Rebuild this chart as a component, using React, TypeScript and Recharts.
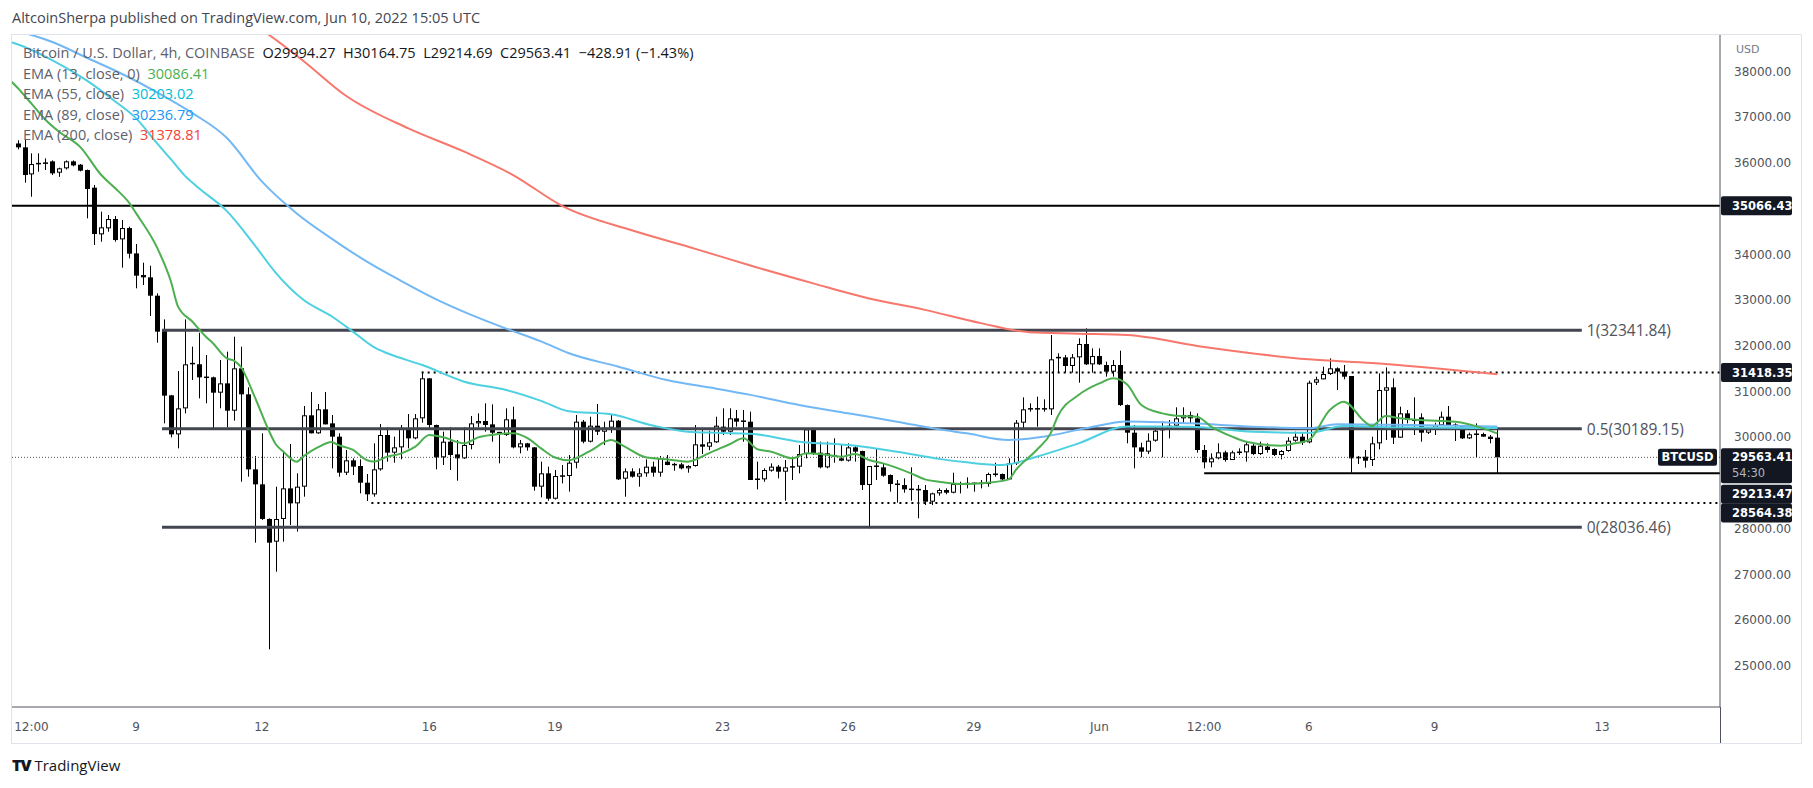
import React from 'react';
import { ComposedChart, Bar, Line, XAxis, YAxis, ReferenceLine } from 'recharts';

// ---- Candles (4h, BTC/USD Coinbase), index 0 = May 6 04:00 UTC ----
const opens = [
  36430, 36345, 35754, 35975, 35990, 36039, 35791, 35886, 36039, 35966,
  35849, 35463, 34442, 34573, 34777, 34332, 34580, 34025, 33552, 33501,
  33100, 32349, 30920, 30066, 30635, 31620, 31600, 31313, 31314, 30978,
  31182, 30584, 31511, 30942, 29301, 28973, 28215, 27719, 28215, 28885,
  28557, 28922, 30483, 30089, 30614, 30307, 30016, 29228, 29498, 29374,
  29009, 28754, 29301, 30052, 29666, 29782, 30198, 29979, 30417, 31292,
  30271, 29564, 29906, 29629, 29542, 29834, 30307, 30358, 30285, 30103,
  30052, 30395, 29782, 29870, 29782, 28922, 29214, 28659, 29150, 29155,
  29447, 30344, 29906, 30256, 30125, 30213, 30366, 29097, 29257, 29141,
  29214, 29360, 29228, 29469, 29410, 29410, 29323, 29374, 29848, 29797,
  29892, 30235, 30125, 30417, 30360, 30344, 29090, 29082, 29272, 29360,
  29250, 29345, 29360, 29636, 30176, 29665, 29345, 29600, 29542, 29491,
  29782, 29702, 28958, 29374, 29345, 29177, 28980, 28958, 28870, 28863,
  28849, 28594, 28776, 28849, 28790, 28980, 28985, 28995, 29000, 28980,
  29199, 29199, 29082, 29432, 30322, 30600, 30630, 30630, 30614, 31708,
  31751, 31562, 31751, 32043, 31598, 31780, 31584, 31438, 31584, 30708,
  30103, 29782, 29688, 29928, 30150, 30176, 30256, 30417, 30490, 30417,
  29724, 29454, 29542, 29673, 29505, 29673, 29673, 29819, 29636, 29797,
  29746, 29615, 29702, 29928, 30016, 29892, 31197, 31270, 31386, 31511,
  31438, 31343, 29564, 29578, 29505, 29870, 31022, 31095, 29994, 30526,
  30380, 30438, 30103, 30176, 30264, 30453, 30271, 30250, 29979, 30067,
  30074, 30016, 29994.27,
];
const highs = [
  36500, 36506, 36214, 36214, 36104, 36060, 35900, 36060, 36060, 35980,
  35860, 35521, 34938, 34865, 34843, 34755, 34609, 34230, 33822, 33756,
  33151, 32582, 30930, 31452, 32582, 31985, 32290, 31802, 31330, 31693,
  31875, 32203, 31985, 31095, 29593, 30089, 28230, 28922, 29688, 29855,
  29214, 30687, 30993, 30730, 30993, 30490, 30089, 29724, 29542, 29520,
  29199, 29870, 30293, 30220, 30016, 30271, 30511, 30511, 31438, 31300,
  30280, 30125, 30220, 29943, 30220, 30468, 30526, 30745, 30723, 30120,
  30636, 30672, 29943, 29880, 29790, 29469, 29360, 29286, 29396, 29615,
  30490, 30380, 30453, 30730, 30344, 30490, 30380, 29323, 29323, 29323,
  29520, 29470, 29593, 29615, 29445, 29445, 29390, 30271, 30176, 30147,
  30453, 30636, 30636, 30599, 30599, 30563, 29469, 29323, 29432, 29396,
  29505, 29578, 29834, 30176, 30190, 29906, 29906, 29980, 29855, 29870,
  29834, 29710, 29374, 29760, 29432, 29190, 29068, 29104, 29345, 28958,
  28958, 28790, 28885, 28885, 29228, 29031, 29126, 29010, 29068, 29228,
  29447, 29210, 29542, 30380, 30876, 30745, 30891, 30833, 32240, 31839,
  31802, 31824, 32167, 32386, 31948, 31948, 31657, 31693, 31897, 30720,
  30271, 29885, 30089, 30235, 30344, 30380, 30658, 30658, 30563, 30526,
  29834, 29651, 29870, 29710, 29710, 29760, 29906, 29870, 29906, 29870,
  29760, 29724, 30001, 30125, 30089, 31240, 31328, 31547, 31729, 31532,
  31584, 31343, 29593, 29724, 30016, 31401, 31532, 31292, 30672, 30599,
  30876, 30526, 30220, 30322, 30563, 30687, 30307, 30271, 30103, 30307,
  30103, 30052, 30164.75,
];
const lows = [
  36300, 35572, 35266, 35813, 35850, 35740, 35700, 35860, 35930, 35820,
  34792, 34209, 34281, 34500, 34281, 33713, 33917, 33261, 33334, 32655,
  32072, 30307, 30001, 29760, 30526, 31255, 30854, 30745, 30176, 30636,
  30220, 30366, 29031, 29141, 27697, 28195, 25364, 27062, 27719, 28083,
  27938, 28703, 30089, 30080, 30285, 29323, 29141, 29177, 29177, 28776,
  28609, 28703, 29272, 29469, 29447, 29520, 29760, 29960, 30322, 30162,
  29301, 29396, 29286, 29053, 29530, 29739, 30220, 30125, 29906, 29432,
  30030, 29760, 29651, 29710, 28834, 28688, 28615, 28640, 28994, 28813,
  29323, 29870, 29890, 30052, 29834, 30100, 29068, 28703, 29120, 28922,
  29140, 29140, 29140, 29390, 29270, 29300, 29228, 29360, 29636, 29720,
  29880, 30052, 30052, 30235, 29906, 29068, 28863, 29030, 29250, 29104,
  28615, 29068, 29214, 29540, 29615, 29323, 29323, 29447, 29480, 29470,
  29470, 28849, 28010, 29068, 29140, 28812, 28572, 28790, 28615, 28230,
  28520, 28520, 28725, 28755, 28776, 28776, 28885, 28812, 28885, 28922,
  29140, 29068, 29068, 29396, 30198, 30563, 30235, 30563, 30490, 31416,
  31416, 31416, 31197, 31584, 31416, 31584, 31329, 31329, 30687, 29870,
  29323, 29564, 29636, 29906, 29564, 29979, 30220, 30307, 30307, 29666,
  29323, 29345, 29520, 29469, 29505, 29615, 29469, 29615, 29615, 29666,
  29593, 29520, 29687, 29906, 29834, 29870, 31146, 31270, 31365, 31036,
  31270, 29228, 29418, 29337, 29374, 29738, 29943, 29855, 29994, 30307,
  30052, 29906, 30074, 30052, 30250, 30250, 29921, 29965, 29965, 29564,
  30016, 29870, 29214.69,
];
const closes = [
  36345, 35740, 35980, 35995, 36005, 35776, 35886, 36039, 35951, 35835,
  35434, 34449, 34595, 34777, 34318, 34580, 34019, 33538, 33501, 33100,
  32313, 30913, 30066, 30635, 31598, 31583, 31313, 31320, 30978, 31182,
  30584, 31511, 30942, 29301, 28973, 28215, 27697, 28215, 28885, 28557,
  28922, 30483, 30089, 30614, 30285, 30016, 29228, 29498, 29360, 29009,
  28754, 29301, 30052, 29666, 29782, 30198, 29979, 30417, 31292, 30271,
  29564, 29906, 29615, 29542, 29834, 30307, 30358, 30271, 30103, 30110,
  30395, 29782, 29870, 29782, 28922, 29214, 28659, 29155, 29160, 29447,
  30344, 29906, 30256, 30125, 30213, 30366, 29082, 29257, 29141, 29214,
  29360, 29228, 29542, 29396, 29400, 29323, 29374, 29848, 29797, 29892,
  30256, 30125, 30417, 30344, 30344, 29068, 29075, 29286, 29360, 29250,
  29345, 29360, 29636, 30176, 29651, 29345, 29651, 29580, 29491, 29782,
  29688, 28958, 29374, 29360, 29162, 28980, 28958, 28863, 28863, 28849,
  28594, 28776, 28849, 28790, 28980, 28985, 28995, 29000, 28990, 29199,
  29199, 29082, 29432, 30322, 30614, 30630, 30630, 30614, 31708, 31751,
  31562, 31751, 32043, 31598, 31780, 31598, 31438, 31584, 30708, 30103,
  29782, 29688, 29928, 30147, 30176, 30256, 30417, 30490, 30417, 29724,
  29454, 29542, 29673, 29505, 29673, 29680, 29848, 29636, 29819, 29724,
  29615, 29702, 29928, 30016, 29885, 31197, 31270, 31386, 31511, 31438,
  31328, 29542, 29550, 29490, 29870, 31036, 31095, 29994, 30526, 30380,
  30380, 30103, 30176, 30264, 30453, 30271, 30271, 29979, 30067, 30074,
  30016, 29965, 29563.41,
];

// ---- EMA readings (candle index -> value) ----
const ema13Idx = [-1,0,2,4,6,9,12,14,16,17,20,22,23,25,27,28,30,31,32,34,36,37,38,40,41,43,45,46,48,50,51,53,55,57,59,61,64,66,69,71,73,75,77,79,82,85,87,90,93,96,99,102,104,106,108,111,113,115,118,120,122,124,128,130,132,135,139,142,143,146,148,149,152,155,157,159,161,164,166,169,171,174,176,181,183,185,188,190,193,194,196,198,201,206,210,212];
const ema13Val = [37800,37650,37300,36950,36680,36350,35740,35450,35130,34900,34150,33400,32860,32540,32203,32060,31729,31680,31540,30880,30150,29850,29700,29469,29590,29780,29900,29830,29730,29505,29470,29580,29651,29797,30050,30001,29870,30000,30074,30090,29990,29760,29560,29500,29700,29943,29797,29564,29520,29469,29650,29850,29979,29740,29688,29542,29651,29637,29578,29637,29505,29432,29214,29082,29031,28980,29009,29082,29286,29724,30089,30453,30927,31182,31292,31150,30709,30526,30475,30453,30235,30016,29906,29819,29870,29943,30599,30781,30344,30249,30468,30417,30380,30344,30198,30086];
const ema55Idx = [-1,0,5,10,14,17,20,22,24,26,30,34,37,41,45,48,51,53,58,64,70,75,79,85,91,96,100,105,112,119,126,132,136,141,146,152,159,168,177,185,190,198,212];
const ema55Val = [38650,38600,38250,37800,37350,36980,36430,36080,35720,35450,34950,34200,33600,33005,32650,32320,31980,31840,31583,31219,31037,30800,30570,30504,30260,30125,30100,30080,29906,29833,29688,29530,29454,29396,29578,29870,30240,30235,30125,30100,30249,30220,30203];
const ema89Idx = [-1,0,5,10,15,20,25,30,35,40,45,50,55,60,65,70,75,79,86,93,100,105,112,119,126,132,136,142,147,153,159,168,177,185,189,200,212];
const ema89Val = [38950,38900,38650,38300,37950,37550,37100,36550,35600,34900,34350,33850,33420,33020,32680,32380,32100,31840,31550,31255,31070,30930,30709,30526,30344,30176,30089,29943,30016,30198,30350,30307,30235,30200,30290,30271,30237];
const ema200Idx = [-1,20,30,36,41,47,56,64,71,78,88,97,105,114,122,130,138,145,152,159,170,185,194,212];
const ema200Val = [41500,40300,39400,38809,38230,37480,36760,36250,35740,35066,34530,34130,33760,33370,33040,32790,32500,32300,32270,32240,31980,31708,31627,31379];

// ---- Axis ticks ----
const timeTickIdx = [2, 17, 35, 59, 77, 101, 119, 137, 155, 170, 185, 203, 227];
const timeTickLabels = ['12:00', '9', '12', '16', '19', '23', '26', '29', 'Jun', '12:00', '6', '9', '13'];
const priceTicks = [25000, 26000, 27000, 28000, 30000, 31000, 32000, 33000, 34000, 36000, 37000, 38000];

// ---- Drawn levels ----
const resistanceLevel = 35066.43;
const fibLevels = [32341.84, 30189.15, 28036.46];
const fibLabels = ['1(32341.84)', '0.5(30189.15)', '0(28036.46)'];
const fibStartIdx = 20.7;
const fibEndIdx = 224.1;
const dottedHigh = 31418.35;
const dottedHighStart = 57.9;
const dottedLow = 28564.38;
const dottedLowStart = 50.7;
const supportLevel = 29213.47;
const supportStart = 170;
const lastPrice = 29563.41;

const X_DOMAIN: [number, number] = [-0.79, 243.9];
const Y_DOMAIN: [number, number] = [24102, 38803];

const rows: any[] = [];
for (let i = -1; i < opens.length; i++) {
  const r: any = { i };
  if (i >= 0) {
    r.o = opens[i]; r.hi = highs[i]; r.lo = lows[i]; r.c = closes[i];
    r.range = [lows[i], highs[i]];
  }
  rows.push(r);
}
const put = (idx: number[], val: number[], key: string) => {
  idx.forEach((ix, k) => { rows[ix + 1][key] = val[k]; });
};
put(ema13Idx, ema13Val, 'ema13');
put(ema55Idx, ema55Val, 'ema55');
put(ema89Idx, ema89Val, 'ema89');
put(ema200Idx, ema200Val, 'ema200');

const AXIS_FONT = '"DejaVu Sans", sans-serif';
const UI_FONT = '"Open Sans", sans-serif';

const Candle = (props: any) => {
  const { x, y, width, height, payload } = props;
  if (!payload || payload.o == null || x == null || y == null) return null;
  const top = Math.min(y, y + height);
  const h = Math.abs(height);
  const { o, c, hi, lo } = payload;
  const span = hi - lo;
  const k = span > 0 ? h / span : 0;
  const cx = Math.round(x + width / 2);
  const bTop = top + (hi - Math.max(o, c)) * k;
  const bBot = top + (hi - Math.min(o, c)) * k;
  const up = c >= o;
  const bh = bBot - bTop;
  let body;
  if (bh < 2) {
    body = <rect x={cx - 2} y={bTop - 0.5} width={5} height={1.5} fill="#000" />;
  } else if (up) {
    body = <rect x={cx - 1.5} y={bTop + 0.5} width={4} height={bh - 1} fill="#fff" stroke="#000" strokeWidth={1} />;
  } else {
    body = <rect x={cx - 2} y={bTop} width={5} height={bh} fill="#000" />;
  }
  return (
    <g>
      <line x1={cx + 0.5} x2={cx + 0.5} y1={top} y2={top + h} stroke="#000" strokeWidth={1} />
      {body}
    </g>
  );
};

const PriceTag = (props: any) => {
  const vb = props.viewBox;
  if (!vb) return null;
  const right = vb.x + vb.width;
  const y = vb.y + props.dy;
  return (
    <g>
      <rect x={right + 1} y={y - 9.5} width={71} height={props.h || 19} rx={2} fill="#131722" />
      <text x={right + 12} y={y} dominantBaseline="central" fill="#fff" fontWeight="bold" fontSize={11.5} fontFamily={AXIS_FONT}>{props.text}</text>
    </g>
  );
};

const LastPriceTag = (props: any) => {
  const vb = props.viewBox;
  if (!vb) return null;
  const right = vb.x + vb.width;
  const y = vb.y;
  return (
    <g>
      <rect x={right - 62} y={y - 8.5} width={59} height={17} rx={2} fill="#131722" />
      <text x={right - 32.5} y={y} textAnchor="middle" dominantBaseline="central" fill="#fff" fontWeight="bold" fontSize={11.5} fontFamily={AXIS_FONT}>BTCUSD</text>
      <rect x={right + 1} y={y - 9} width={71} height={35} rx={2} fill="#131722" />
      <text x={right + 12} y={y} dominantBaseline="central" fill="#fff" fontWeight="bold" fontSize={11.5} fontFamily={AXIS_FONT}>{props.text}</text>
      <text x={right + 12} y={y + 16} dominantBaseline="central" fill="#b2b5be" fontSize={11.5} fontFamily={AXIS_FONT}>54:30</text>
    </g>
  );
};

const FibLabel = (props: any) => {
  const vb = props.viewBox;
  if (!vb) return null;
  return (
    <text x={vb.x + vb.width + 5} y={vb.y} dominantBaseline="central" fill="#50535e" fontSize={15.5} fontFamily={UI_FONT}>{props.text}</text>
  );
};

const PriceTick = (props: any) => {
  const { x, y, payload } = props;
  return (
    <text x={x + 14} y={y} dominantBaseline="central" fill="#50535e" fontSize={12} fontFamily={AXIS_FONT}>
      {Number(payload.value).toFixed(2)}
    </text>
  );
};

const TimeTick = (props: any) => {
  const { x, y, payload } = props;
  const k = timeTickIdx.indexOf(payload.value);
  return (
    <text x={x} y={y + 20} textAnchor="middle" dominantBaseline="central" fill="#50535e" fontSize={12} fontFamily={AXIS_FONT}>
      {k >= 0 ? timeTickLabels[k] : ''}
    </text>
  );
};

const legendRow = (top: number, name: string, value: string, color: string) => (
  <div style={{ position: 'absolute', left: 23, top, fontFamily: UI_FONT, fontSize: 14.5, lineHeight: '18px', color: '#5d606b', whiteSpace: 'pre' }}>
    {name}  <span style={{ color }}>{value}</span>
  </div>
);

export default function App() {
  return (
    <div style={{ position: 'absolute', left: 0, top: 0, width: 1813, height: 788, background: '#fff', overflow: 'hidden' }}>
      <div style={{ position: 'absolute', left: 12, top: 8, fontFamily: UI_FONT, fontSize: 14.5, lineHeight: '20px', color: '#434651', whiteSpace: 'pre' }}>
        AltcoinSherpa published on TradingView.com, Jun 10, 2022 15:05 UTC
      </div>
      <div style={{ position: 'absolute', left: 11, top: 34, width: 1791, height: 710, border: '1px solid #e0e3eb', boxSizing: 'border-box' }} />
      <div style={{ position: 'absolute', left: 12, top: 35 }}>
        <ComposedChart width={1788} height={708} data={rows} margin={{ top: 0, right: 0, bottom: 0, left: 0 }}>
          <XAxis
            dataKey="i"
            type="number"
            domain={X_DOMAIN}
            allowDataOverflow
            ticks={timeTickIdx}
            interval={0}
            tick={<TimeTick />}
            tickLine={false}
            tickSize={0}
            tickMargin={0}
            height={36}
            axisLine={{ stroke: '#50535e' }}
          />
          <YAxis
            orientation="right"
            type="number"
            domain={Y_DOMAIN}
            allowDataOverflow
            ticks={priceTicks}
            interval={0}
            tick={<PriceTick />}
            tickLine={false}
            tickSize={0}
            tickMargin={0}
            width={80}
            axisLine={{ stroke: '#50535e' }}
          />
          <ReferenceLine y={resistanceLevel} stroke="#000" strokeWidth={2} label={<PriceTag text="35066.43" dy={0} />} />
          {fibLevels.map((lv, k) => (
            <ReferenceLine
              key={'fib' + k}
              segment={[{ x: fibStartIdx, y: lv }, { x: fibEndIdx, y: lv }]}
              stroke="#434651"
              strokeWidth={3}
              label={<FibLabel text={fibLabels[k]} />}
            />
          ))}
          <ReferenceLine
            segment={[{ x: dottedHighStart, y: dottedHigh }, { x: X_DOMAIN[1], y: dottedHigh }]}
            stroke="#000"
            strokeWidth={2}
            strokeDasharray="2 4"
            label={<PriceTag text="31418.35" dy={0} />}
          />
          <ReferenceLine
            segment={[{ x: dottedLowStart, y: dottedLow }, { x: X_DOMAIN[1], y: dottedLow }]}
            stroke="#000"
            strokeWidth={2}
            strokeDasharray="2 4"
            label={<PriceTag text="28564.38" dy={10} />}
          />
          <ReferenceLine
            segment={[{ x: supportStart, y: supportLevel }, { x: X_DOMAIN[1], y: supportLevel }]}
            stroke="#000"
            strokeWidth={2}
            label={<PriceTag text="29213.47" dy={21} />}
          />
          <ReferenceLine y={lastPrice} stroke="#50535e" strokeWidth={1} strokeDasharray="1 2" label={<LastPriceTag text="29563.41" />} />
          <Bar dataKey="range" shape={<Candle />} barSize={5} isAnimationActive={false} />
          <Line dataKey="ema200" type="monotone" stroke="#f7776c" strokeWidth={2} dot={false} connectNulls isAnimationActive={false} />
          <Line dataKey="ema89" type="monotone" stroke="#72b8f5" strokeWidth={2} dot={false} connectNulls isAnimationActive={false} />
          <Line dataKey="ema55" type="monotone" stroke="#4dd0e1" strokeWidth={2} dot={false} connectNulls isAnimationActive={false} />
          <Line dataKey="ema13" type="monotone" stroke="#4caf50" strokeWidth={2} dot={false} connectNulls isAnimationActive={false} />
        </ComposedChart>
      </div>
      <div style={{ position: 'absolute', left: 1720, top: 707, width: 1, height: 36, background: '#50535e' }} />
      <div style={{ position: 'absolute', left: 1736, top: 43, fontFamily: AXIS_FONT, fontSize: 11, color: '#787b86' }}>USD</div>
      <div style={{ position: 'absolute', left: 23, top: 44, fontFamily: UI_FONT, fontSize: 14.5, lineHeight: '18px', color: '#5d606b', whiteSpace: 'pre' }}>
        Bitcoin / U.S. Dollar, 4h, COINBASE  <span style={{ color: '#131722' }}>O29994.27  H30164.75  L29214.69  C29563.41  −428.91 (−1.43%)</span>
      </div>
      {legendRow(64.5, 'EMA (13, close, 0)', '30086.41', '#4caf50')}
      {legendRow(85, 'EMA (55, close)', '30203.02', '#00bcd4')}
      {legendRow(105.5, 'EMA (89, close)', '30236.79', '#2196f3')}
      {legendRow(126, 'EMA (200, close)', '31378.81', '#f44336')}
      <div style={{ position: 'absolute', left: 12, top: 755, fontFamily: UI_FONT, fontSize: 15, lineHeight: '20px', color: '#131722', whiteSpace: 'pre' }}>
        <span style={{ fontWeight: 800, fontSize: 16, letterSpacing: -1 }}>TV</span> TradingView
      </div>
    </div>
  );
}
